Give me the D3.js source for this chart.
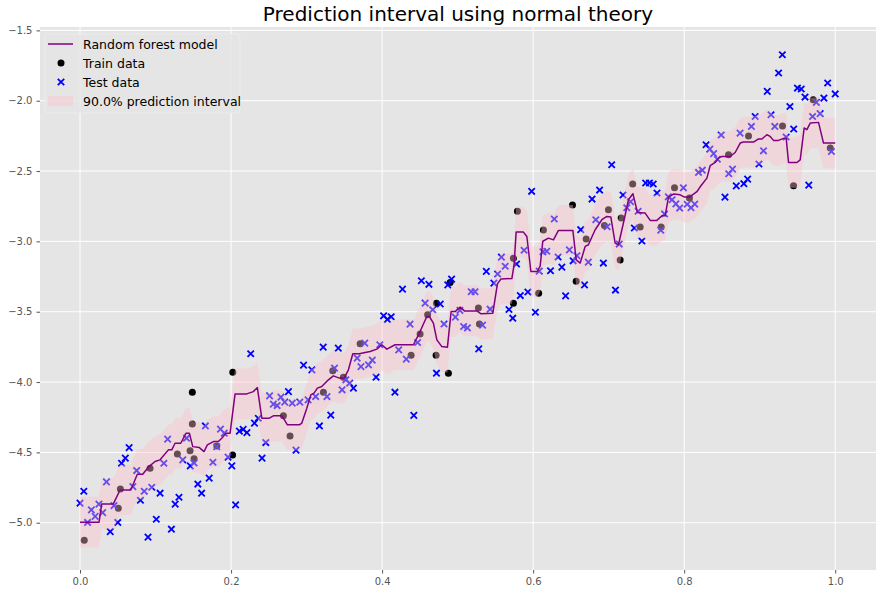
<!DOCTYPE html>
<html>
<head>
<meta charset="utf-8">
<script src="https://cdn.jsdelivr.net/npm/d3@7"></script>
<style>
  body { margin: 0; background: #ffffff; }
  svg { display: block; font-family: 'DejaVu Sans', sans-serif; }
</style>
</head>
<body>
<div id="chart"></div>
<script>
// Prediction interval chart: random forest line, train/test scatter and a pink band

// Test data, evenly spaced on [0, 1]
const testX = [
  0.000, 0.005, 0.010, 0.015, 0.020, 0.025, 0.030, 0.035, 0.040, 0.045,
  0.050, 0.055, 0.060, 0.065, 0.070, 0.075, 0.080, 0.085, 0.090, 0.095,
  0.101, 0.106, 0.111, 0.116, 0.121, 0.126, 0.131, 0.136, 0.141, 0.146,
  0.151, 0.156, 0.161, 0.166, 0.171, 0.176, 0.181, 0.186, 0.191, 0.196,
  0.201, 0.206, 0.211, 0.216, 0.221, 0.226, 0.231, 0.236, 0.241, 0.246,
  0.251, 0.256, 0.261, 0.266, 0.271, 0.276, 0.281, 0.286, 0.291, 0.296,
  0.302, 0.307, 0.312, 0.317, 0.322, 0.327, 0.332, 0.337, 0.342, 0.347,
  0.352, 0.357, 0.362, 0.367, 0.372, 0.377, 0.382, 0.387, 0.392, 0.397,
  0.402, 0.407, 0.412, 0.417, 0.422, 0.427, 0.432, 0.437, 0.442, 0.447,
  0.452, 0.457, 0.462, 0.467, 0.472, 0.477, 0.482, 0.487, 0.492, 0.497,
  0.503, 0.508, 0.513, 0.518, 0.523, 0.528, 0.533, 0.538, 0.543, 0.548,
  0.553, 0.558, 0.563, 0.568, 0.573, 0.578, 0.583, 0.588, 0.593, 0.598,
  0.603, 0.608, 0.613, 0.618, 0.623, 0.628, 0.633, 0.638, 0.643, 0.648,
  0.653, 0.658, 0.663, 0.668, 0.673, 0.678, 0.683, 0.688, 0.693, 0.698,
  0.704, 0.709, 0.714, 0.719, 0.724, 0.729, 0.734, 0.739, 0.744, 0.749,
  0.754, 0.759, 0.764, 0.769, 0.774, 0.779, 0.784, 0.789, 0.794, 0.799,
  0.804, 0.809, 0.814, 0.819, 0.824, 0.829, 0.834, 0.839, 0.844, 0.849,
  0.854, 0.859, 0.864, 0.869, 0.874, 0.879, 0.884, 0.889, 0.894, 0.899,
  0.905, 0.910, 0.915, 0.920, 0.925, 0.930, 0.935, 0.940, 0.945, 0.950,
  0.955, 0.960, 0.965, 0.970, 0.975, 0.980, 0.985, 0.990, 0.995, 1.000
];
const testY = [
  -4.861, -4.776, -4.998, -4.909, -4.955, -4.868, -4.928, -4.710, -5.063, -4.878,
  -4.998, -4.577, -4.541, -4.466, -4.743, -4.629, -4.840, -4.776, -5.102, -4.748,
  -4.975, -4.790, -4.577, -4.406, -5.046, -4.868, -4.819, -4.553, -4.399, -4.596,
  -4.575, -4.725, -4.790, -4.312, -4.683, -4.570, -4.460, -4.335, -4.363, -4.534,
  -4.596, -4.873, -4.349, -4.336, -4.359, -3.799, -4.292, -4.257, -4.541, -4.430,
  -4.098, -4.157, -4.167, -4.107, -4.143, -4.068, -4.150, -4.484, -4.143, -3.880,
  -4.127, -3.913, -4.103, -4.312, -3.752, -4.103, -4.235, -3.901, -3.759, -4.055,
  -3.984, -4.008, -4.043, -3.830, -3.890, -3.723, -3.878, -3.844, -3.965, -3.735,
  -3.529, -3.554, -3.536, -4.072, -3.771, -3.339, -3.837, -3.588, -4.237, -3.719,
  -3.280, -3.439, -3.305, -3.486, -3.937, -3.445, -3.587, -3.309, -3.268, -3.538,
  -3.490, -3.605, -3.615, -3.358, -3.358, -3.764, -3.595, -3.213, -3.482, -3.297,
  -3.232, -3.112, -3.177, -3.484, -3.546, -3.161, -3.385, -3.063, -3.360, -2.644,
  -3.504, -3.211, -3.074, -3.070, -3.209, -2.841, -3.111, -3.183, -3.387, -3.060,
  -3.138, -3.102, -2.917, -3.309, -3.147, -2.699, -2.846, -2.635, -3.154, -2.896,
  -2.455, -3.346, -3.019, -2.670, -2.761, -2.718, -2.905, -2.786, -2.997, -2.585,
  -2.585, -2.592, -2.656, -2.921, -2.805, -2.683, -2.704, -2.733, -2.763, -2.619,
  -2.736, -2.761, -2.735, -2.510, -2.494, -2.313, -2.344, -2.376, -2.416, -2.244,
  -2.685, -2.519, -2.486, -2.605, -2.230, -2.590, -2.557, -2.183, -2.112, -2.450,
  -2.356, -1.934, -2.100, -2.183, -1.803, -1.673, -2.258, -2.041, -2.201, -1.910,
  -1.917, -1.974, -2.600, -2.112, -2.012, -2.092, -1.981, -1.874, -2.361, -1.952
];

// Train data
const trainX = [
  0.0056, 0.0507, 0.0534, 0.0927, 0.1289, 0.1457, 0.1510, 0.1487, 0.1487, 0.1811,
  0.2020, 0.2023, 0.2693, 0.2781, 0.3223, 0.3347, 0.3487, 0.3709, 0.4384, 0.4503,
  0.4603, 0.4720, 0.4715, 0.4878, 0.4901, 0.5275, 0.5289, 0.5739, 0.5739, 0.5792,
  0.6073, 0.6136, 0.6521, 0.6570, 0.6702, 0.6944, 0.6997, 0.7152, 0.7166, 0.7318,
  0.7417, 0.7695, 0.7872, 0.8070, 0.8587, 0.8852, 0.9302, 0.9448, 0.9709, 0.9934
];
const trainY = [
  -5.124, -4.897, -4.761, -4.612, -4.511, -4.489, -4.546, -4.299, -4.072, -4.454,
  -4.518, -3.930, -4.240, -4.383, -4.072, -3.920, -3.965, -3.728, -3.809, -3.659,
  -3.522, -3.439, -3.809, -3.937, -3.292, -3.474, -3.588, -3.119, -3.439, -2.785,
  -3.368, -2.919, -2.742, -3.284, -2.983, -2.887, -2.775, -3.132, -2.834, -2.592,
  -2.898, -2.898, -2.619, -2.692, -2.384, -2.251, -2.180, -2.605, -1.993, -2.336
];

// Random forest prediction (corner points of the stepped line)
const forestX = [
  0.0000, 0.0252, 0.0287, 0.0441, 0.0530, 0.0672, 0.0759, 0.0830, 0.0905, 0.0993,
  0.1060, 0.1170, 0.1215, 0.1258, 0.1334, 0.1404, 0.1448, 0.1493, 0.1580, 0.1642,
  0.1686, 0.1766, 0.1832, 0.1877, 0.1934, 0.1987, 0.2053, 0.2208, 0.2295, 0.2348,
  0.2407, 0.2507, 0.2560, 0.2672, 0.2693, 0.2746, 0.2905, 0.2936, 0.3003, 0.3056,
  0.3099, 0.3143, 0.3201, 0.3289, 0.3355, 0.3434, 0.3497, 0.3554, 0.3612, 0.3699,
  0.3775, 0.3841, 0.3930, 0.3996, 0.4062, 0.4172, 0.4415, 0.4503, 0.4592, 0.4626,
  0.4679, 0.4725, 0.4791, 0.4865, 0.4914, 0.4967, 0.5033, 0.5090, 0.5254, 0.5311,
  0.5466, 0.5527, 0.5572, 0.5718, 0.5748, 0.5775, 0.5871, 0.5917, 0.5970, 0.6057,
  0.6093, 0.6128, 0.6203, 0.6269, 0.6335, 0.6526, 0.6570, 0.6623, 0.6689, 0.6732,
  0.6821, 0.6910, 0.6976, 0.7029, 0.7086, 0.7130, 0.7205, 0.7262, 0.7321, 0.7381,
  0.7483, 0.7550, 0.7638, 0.7705, 0.7748, 0.7792, 0.7858, 0.7947, 0.8004, 0.8070,
  0.8168, 0.8212, 0.8301, 0.8344, 0.8411, 0.8454, 0.8499, 0.8609, 0.8675, 0.8742,
  0.8785, 0.8918, 0.8984, 0.9029, 0.9095, 0.9139, 0.9183, 0.9249, 0.9315, 0.9351,
  0.9382, 0.9493, 0.9536, 0.9589, 0.9625, 0.9669, 0.9779, 0.9845, 1.0000
];
const forestY = [
  -4.996, -4.996, -4.866, -4.866, -4.767, -4.767, -4.655, -4.655, -4.605, -4.565,
  -4.553, -4.482, -4.482, -4.435, -4.435, -4.363, -4.363, -4.459, -4.466, -4.494,
  -4.447, -4.423, -4.423, -4.399, -4.363, -4.363, -4.084, -4.084, -4.068, -4.039,
  -4.257, -4.257, -4.240, -4.240, -4.257, -4.304, -4.304, -4.292, -4.186, -4.091,
  -4.079, -4.043, -4.032, -3.984, -3.956, -3.972, -3.972, -3.913, -3.799, -3.799,
  -3.790, -3.783, -3.766, -3.735, -3.766, -3.735, -3.735, -3.641, -3.534, -3.534,
  -3.581, -3.700, -3.748, -3.752, -3.499, -3.499, -3.467, -3.494, -3.494, -3.515,
  -3.510, -3.302, -3.268, -3.264, -3.166, -2.934, -2.934, -2.965, -3.214, -3.214,
  -3.174, -2.999, -2.977, -2.989, -2.922, -2.922, -3.131, -3.154, -3.036, -3.024,
  -2.917, -2.846, -2.823, -2.827, -3.012, -3.024, -2.846, -2.704, -2.661, -2.794,
  -2.799, -2.851, -2.851, -2.818, -2.818, -2.685, -2.664, -2.669, -2.685, -2.685,
  -2.647, -2.612, -2.550, -2.462, -2.439, -2.408, -2.396, -2.396, -2.368, -2.301,
  -2.294, -2.294, -2.272, -2.272, -2.242, -2.254, -2.282, -2.282, -2.268, -2.268,
  -2.439, -2.439, -2.420, -2.194, -2.206, -2.159, -2.154, -2.301, -2.301
];

// 90% normal-theory half width around the forest prediction
const intervalHalfWidth = 0.18;

// Axis ticks and legend labels
const xTicks = [0.0, 0.2, 0.4, 0.6, 0.8, 1.0];
const yTicks = [-5.0, -4.5, -4.0, -3.5, -3.0, -2.5, -2.0, -1.5];
const legendLabels = [
  'Random forest model',
  'Train data',
  'Test data',
  '90.0% prediction interval'
];

(function() {
  const margin = { top: 27, right: 6, bottom: 25, left: 40 };
  const width = 882 - margin.left - margin.right;
  const height = 595 - margin.top - margin.bottom;

  const panelColor = '#E5E5E5';
  const tickColor = '#555555';
  const lineColor = '#800080';
  const bandColor = 'pink';
  const bandOpacity = 0.4;

  const svg = d3.select('#chart')
    .append('svg')
    .attr('width', width + margin.left + margin.right)
    .attr('height', height + margin.top + margin.bottom)
    .append('g')
    .attr('transform', `translate(${margin.left}, ${margin.top})`);

  const x = d3.scaleLinear().domain([-0.053, 1.054]).range([0, width]);
  const y = d3.scaleLinear().domain([-5.336, -1.476]).range([height, 0]);

  // Grey panel
  svg.append('rect')
    .attr('width', width)
    .attr('height', height)
    .attr('fill', panelColor);

  // White grid
  svg.selectAll('.grid-x')
    .data(xTicks)
    .enter()
    .append('line')
    .attr('x1', d => x(d))
    .attr('x2', d => x(d))
    .attr('y1', 0)
    .attr('y2', height)
    .attr('stroke', '#ffffff')
    .attr('stroke-width', 1);

  svg.selectAll('.grid-y')
    .data(yTicks)
    .enter()
    .append('line')
    .attr('x1', 0)
    .attr('x2', width)
    .attr('y1', d => y(d))
    .attr('y2', d => y(d))
    .attr('stroke', '#ffffff')
    .attr('stroke-width', 1);

  // Axes (no domain line, short outside ticks)
  const xAxis = d3.axisBottom(x)
    .tickValues(xTicks)
    .tickFormat(d3.format('.1f'))
    .tickSizeInner(3.5)
    .tickSizeOuter(0)
    .tickPadding(4);

  const yAxis = d3.axisLeft(y)
    .tickValues(yTicks)
    .tickFormat(d3.format('.1f'))
    .tickSizeInner(3.5)
    .tickSizeOuter(0)
    .tickPadding(4);

  const xAxisGroup = svg.append('g')
    .attr('transform', `translate(0, ${height})`)
    .call(xAxis);

  const yAxisGroup = svg.append('g').call(yAxis);

  [xAxisGroup, yAxisGroup].forEach(g => {
    g.select('.domain').remove();
    g.selectAll('.tick line').attr('stroke', tickColor);
    g.selectAll('.tick text')
      .style('font-family', "'DejaVu Sans', sans-serif")
      .style('font-size', '10px')
      .style('fill', tickColor);
  });

  // Train data
  svg.selectAll('.train-dot')
    .data(trainX.map((d, i) => ({ x: d, y: trainY[i] })))
    .enter()
    .append('circle')
    .attr('class', 'train-dot')
    .attr('cx', d => x(d.x))
    .attr('cy', d => y(d.y))
    .attr('r', 3.5)
    .attr('fill', '#000000');

  // Test data
  const cross = 'M-3.2,-3.2L3.2,3.2M-3.2,3.2L3.2,-3.2';

  svg.selectAll('.test-mark')
    .data(testX.map((d, i) => ({ x: d, y: testY[i] })))
    .enter()
    .append('path')
    .attr('class', 'test-mark')
    .attr('transform', d => `translate(${x(d.x)}, ${y(d.y)})`)
    .attr('d', cross)
    .attr('stroke', '#0000FF')
    .attr('stroke-width', 1.8)
    .attr('fill', 'none');

  // Prediction interval band, drawn over the points like matplotlib does
  const forest = forestX.map((d, i) => ({ x: d, y: forestY[i] }));

  const band = d3.area()
    .x(d => x(d.x))
    .y0(d => y(d.y - intervalHalfWidth))
    .y1(d => y(d.y + intervalHalfWidth));

  svg.append('path')
    .datum(forest)
    .attr('d', band)
    .attr('fill', bandColor)
    .attr('fill-opacity', bandOpacity);

  // Forest line on top
  const line = d3.line()
    .x(d => x(d.x))
    .y(d => y(d.y));

  svg.append('path')
    .datum(forest)
    .attr('d', line)
    .attr('fill', 'none')
    .attr('stroke', lineColor)
    .attr('stroke-width', 1.5)
    .attr('stroke-linejoin', 'round');

  // Legend
  const legend = svg.append('g')
    .attr('transform', 'translate(5, 7)');

  legend.append('rect')
    .attr('width', 195)
    .attr('height', 79)
    .attr('rx', 3)
    .attr('fill', panelColor)
    .attr('fill-opacity', 0.8)
    .attr('stroke', '#ececec')
    .attr('stroke-width', 1);

  const rows = legend.selectAll('.legend-item')
    .data(legendLabels)
    .enter()
    .append('g')
    .attr('class', 'legend-item')
    .attr('transform', (d, i) => `translate(0, ${10 + i * 19})`);

  rows.append('text')
    .attr('x', 38)
    .attr('y', 0)
    .attr('dominant-baseline', 'central')
    .style('font-size', '12.5px')
    .style('fill', '#000000')
    .text(d => d);

  rows.filter((d, i) => i === 0)
    .append('line')
    .attr('x1', 3)
    .attr('x2', 28)
    .attr('stroke', lineColor)
    .attr('stroke-width', 1.5);

  rows.filter((d, i) => i === 1)
    .append('circle')
    .attr('cx', 16)
    .attr('r', 3.5)
    .attr('fill', '#000000');

  rows.filter((d, i) => i === 2)
    .append('path')
    .attr('transform', 'translate(16, 0)')
    .attr('d', cross)
    .attr('stroke', '#0000FF')
    .attr('stroke-width', 1.8);

  rows.filter((d, i) => i === 3)
    .append('rect')
    .attr('x', 3)
    .attr('y', -5)
    .attr('width', 25)
    .attr('height', 10)
    .attr('fill', bandColor)
    .attr('fill-opacity', bandOpacity);

  // Title
  svg.append('text')
    .attr('x', width / 2)
    .attr('y', -6)
    .attr('text-anchor', 'middle')
    .style('font-size', '20px')
    .style('fill', '#000000')
    .text('Prediction interval using normal theory');
})();
</script>
</body>
</html>
